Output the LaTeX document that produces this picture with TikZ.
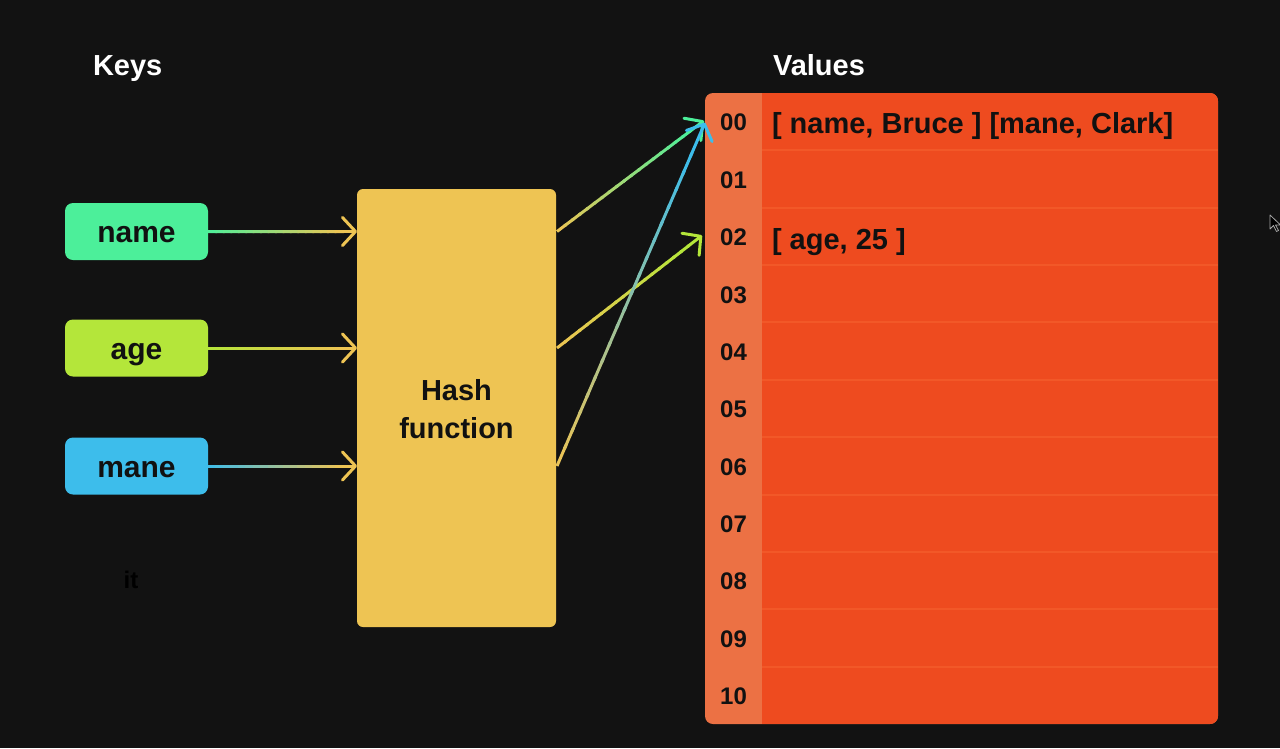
\documentclass[tikz,border=0pt]{standalone}
\usepackage{fontspec}
\setmainfont{Liberation Sans}
\usetikzlibrary{arrows.meta,calc}

\definecolor{bg}{HTML}{121212}
\definecolor{ink}{HTML}{111111}
\definecolor{keyname}{HTML}{4CEF9A}
\definecolor{keyage}{HTML}{B4E63A}
\definecolor{keymane}{HTML}{3DBDEB}
\definecolor{hashy}{HTML}{EEC453}
\definecolor{idxcol}{HTML}{EC7144}
\definecolor{cellcol}{HTML}{EE4B1F}
\definecolor{rowline}{HTML}{F25828}

% gradient connector: #1 start, #2 end, #3 start colour, #4 end colour
\newcommand\gradlink[4]{%
  \foreach \k in {0,...,17}{%
    \pgfmathtruncatemacro\mixv{100-(\k+0.5)*100/18}%
    \draw[link, draw=#3!\mixv!#4]
      ($(#1)!{\k*0.05}!(#2)$) -- ($(#1)!{(\k+1)*0.05+0.012}!(#2)$);
  }%
  \draw[link, draw=#4, -{Straight Barb[length=13pt,width=28pt,round]}]
    ($(#1)!0.9!(#2)$) -- (#2);
}

\begin{document}
\begin{tikzpicture}[x=1pt,y=-1pt,
  every node/.style={inner sep=0pt, outer sep=0pt},
  link/.style={line width=3pt},
  heading/.style={text=white, font=\fontsize{29}{34}\selectfont\bfseries, anchor=base west},
  keybox/.style={rounded corners=8pt, minimum width=143pt, minimum height=57pt,
    text height=22pt, text depth=0pt,
    text=ink, font=\fontsize{30}{36}\selectfont\bfseries},
  hashbox/.style={fill=hashy, rounded corners=6pt, minimum width=199pt, minimum height=438pt},
  tablebox/.style={fill=idxcol, rounded corners=8pt, minimum width=513pt, minimum height=631pt},
  idxlabel/.style={text=ink, font=\fontsize{24}{28}\selectfont\bfseries},
  cellval/.style={text=ink, font=\fontsize{29}{34}\selectfont\bfseries, anchor=base west},
]
\useasboundingbox (0,0) rectangle (1280,748);
\fill[bg] (0,0) rectangle (1280,748);

% headings
\node[heading] (hkeys) at (93,75) {Keys};
\node[heading] (hvals) at (773,75) {Values};

% keys
\node[keybox, fill=keyname] (kname) at (136.5,231.5) {name};
\node[keybox, fill=keyage]  (kage)  at (136.5,348)   {age};
\node[keybox, fill=keymane] (kmane) at (136.5,466)   {mane};
\node[text=black, font=\fontsize{24}{28}\selectfont\bfseries, anchor=base] (stray) at (131,588) {it};

% hash function
\node[hashbox] (hash) at (456.5,408) {};
\node[align=center, text=ink, font=\fontsize{29}{38}\selectfont\bfseries] (hashtxt) at (456.5,409) {Hash\\function};

% table of slots
\node[tablebox] (tbl) at (961.5,408.5) {};
\begin{scope}
  \clip[rounded corners=8pt] (tbl.north west) rectangle (tbl.south east);
  \fill[cellcol] ($(tbl.north west)+(57,0)$) rectangle (tbl.south east);
  \foreach \r in {1,...,10}
    \draw[rowline, line width=2pt] (762,{93+57.36*\r}) -- (1218,{93+57.36*\r});
\end{scope}
\foreach \r in {0,...,10}
  \node[idxlabel] (i\r) at (733.5,{94+57.36*(\r+0.5)}) {\ifnum\r<10 0\fi\r};

\node[cellval] (v0) at (772,133.5) {[ name, Bruce ] [mane, Clark]};
\node[cellval] (v2) at (772,249) {[ age, 25 ]};

% connector ends
\coordinate (hinA) at (hash.west |- kname);
\coordinate (hinB) at (hash.west |- kage);
\coordinate (hinC) at (hash.west |- kmane);
\coordinate (houtA) at ($(hash.east |- kname)+(1,0)$);
\coordinate (houtB) at ($(hash.east |- kage)+(1,0)$);
\coordinate (houtC) at ($(hash.east |- kmane)+(1,0)$);
\coordinate (slot0) at ($(tbl.west |- i0)+(-1,-2)$);
\coordinate (slot0b) at ($(tbl.west |- i0)+(0,0)$);
\coordinate (slot2) at ($(tbl.west |- i2)+(-3,-2)$);

% keys into the hash function
\gradlink{kname.east}{hinA}{keyname}{hashy}
\gradlink{kage.east}{hinB}{keyage}{hashy}
\gradlink{kmane.east}{hinC}{keymane}{hashy}

% hash function into the slots
\gradlink{houtB}{slot2}{hashy}{keyage}
\gradlink{houtA}{slot0}{hashy}{keyname}
\gradlink{houtC}{slot0b}{hashy}{keymane}

% mouse pointer
\coordinate (ptr) at (1270,215);
\draw[fill=black, draw=gray!70, line width=0.8pt, line join=round]
  (ptr) -- ++(0,14) -- ++(3.5,-3.5) -- ++(3,6) -- ++(2,-1) -- ++(-3,-5.5) -- ++(5,0) -- cycle;
\end{tikzpicture}
\end{document}
